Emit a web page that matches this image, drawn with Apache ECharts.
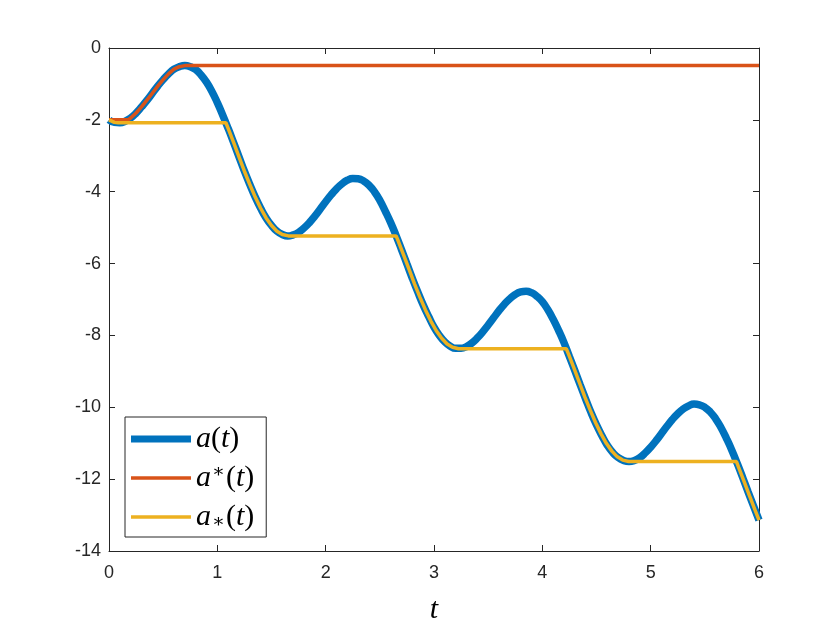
<!DOCTYPE html>
<html>
<head>
<meta charset="utf-8">
<script src="https://cdn.jsdelivr.net/npm/echarts@6/dist/echarts.min.js"></script>
<style>html,body{margin:0;padding:0;background:#fff}#c{width:840px;height:630px}</style>
</head>
<body>
<div id="c"></div>
<script>
// a(t), read at t = 0, 0.05, ..., 6
const tValues = [0,0.05,0.1,0.15,0.2,0.25,0.3,0.35,0.4,0.45,0.5,0.55,0.6,0.65,0.7,0.75,0.8,0.85,0.9,0.95,
  1.0,1.05,1.1,1.15,1.2,1.25,1.3,1.35,1.4,1.45,1.5,1.55,1.6,1.65,1.7,1.75,1.8,1.85,1.9,1.95,
  2.0,2.05,2.1,2.15,2.2,2.25,2.3,2.35,2.4,2.45,2.5,2.55,2.6,2.65,2.7,2.75,2.8,2.85,2.9,2.95,
  3.0,3.05,3.1,3.15,3.2,3.25,3.3,3.35,3.4,3.45,3.5,3.55,3.6,3.65,3.7,3.75,3.8,3.85,3.9,3.95,
  4.0,4.05,4.1,4.15,4.2,4.25,4.3,4.35,4.4,4.45,4.5,4.55,4.6,4.65,4.7,4.75,4.8,4.85,4.9,4.95,
  5.0,5.05,5.1,5.15,5.2,5.25,5.3,5.35,5.4,5.45,5.5,5.55,5.6,5.65,5.7,5.75,5.8,5.85,5.9,5.95,6.0];
const aValues = [-2.00,-2.07,-2.08,-2.04,-1.95,-1.81,-1.64,-1.46,-1.26,-1.06,-0.88,-0.72,-0.59,-0.52,-0.49,-0.52,-0.60,-0.75,-0.95,-1.21,
  -1.52,-1.87,-2.24,-2.63,-3.03,-3.43,-3.80,-4.15,-4.46,-4.73,-4.94,-5.10,-5.19,-5.23,-5.20,-5.13,-5.01,-4.86,-4.68,-4.48,
  -4.28,-4.09,-3.92,-3.78,-3.68,-3.63,-3.64,-3.70,-3.82,-4.00,-4.24,-4.54,-4.86,-5.22,-5.61,-6.01,-6.41,-6.79,-7.15,-7.47,
  -7.77,-8.00,-8.18,-8.30,-8.36,-8.36,-8.31,-8.21,-8.07,-7.90,-7.71,-7.51,-7.31,-7.13,-6.98,-6.86,-6.79,-6.77,-6.81,-6.91,
  -7.06,-7.28,-7.55,-7.86,-8.20,-8.59,-8.98,-9.38,-9.77,-10.15,-10.49,-10.79,-11.06,-11.26,-11.40,-11.48,-11.51,-11.48,-11.40,-11.27,
  -11.11,-10.93,-10.73,-10.53,-10.34,-10.18,-10.05,-9.96,-9.91,-9.93,-10.00,-10.13,-10.32,-10.57,-10.87,-11.20,-11.57,-11.96,-12.36,-12.75,-13.14];
// a*(t): running maximum
const aMaxT = [0,0.175,0.2,0.25,0.3,0.35,0.4,0.45,0.5,0.55,0.6,0.65,0.7,6];
const aMaxV = [-2.00,-2.00,-1.95,-1.81,-1.64,-1.45,-1.26,-1.06,-0.88,-0.72,-0.59,-0.52,-0.49,-0.49];
// a_*(t): running minimum
const aMinT = [0,0.05,0.085,1.079,1.1,1.15,1.2,1.25,1.3,1.35,1.4,1.45,1.5,1.55,1.6,1.656,
  2.65,2.671,2.721,2.771,2.821,2.871,2.921,2.971,3.021,3.071,3.121,3.171,3.227,
  4.221,4.242,4.292,4.342,4.392,4.442,4.492,4.542,4.592,4.642,4.692,4.742,4.797,
  5.792,5.812,5.862,5.912,5.962,6.0];
const aMinV = [-2.00,-2.07,-2.08,-2.08,-2.24,-2.63,-3.03,-3.43,-3.80,-4.15,-4.46,-4.73,-4.94,-5.10,-5.19,-5.23,
  -5.23,-5.38,-5.77,-6.17,-6.57,-6.94,-7.29,-7.60,-7.87,-8.08,-8.24,-8.33,-8.37,
  -8.37,-8.52,-8.91,-9.31,-9.71,-10.08,-10.43,-10.74,-11.01,-11.22,-11.38,-11.47,-11.51,
  -11.51,-11.67,-12.06,-12.46,-12.85,-13.14];
const xTicks = [0,1,2,3,4,5,6];
const yTicks = [0,-2,-4,-6,-8,-10,-12,-14];
const seriesNames = ['a(t)','a*(t)','a_*(t)'];

const zip = (xs, ys) => xs.map((x, i) => [x, ys[i]]);
const axisColor = '#262626';
const tickFont = {color: axisColor, fontSize: 18, fontFamily: 'Liberation Sans, Arial, sans-serif'};
const legendFmt = {
  'a(t)': '{i|a}{n|(}{i|t}{n|)}',
  'a*(t)': '{i|a}{sup|∗}{n|(}{i|t}{n|)}',
  'a_*(t)': '{i|a}{sub|∗}{n|(}{i|t}{n|)}'
};
const serif = 'Liberation Serif, DejaVu Serif, serif';

const chart = echarts.init(document.getElementById('c'), null, {renderer: 'canvas'});
const baseX = {type: 'value', min: 0, max: 6, interval: 1, splitLine: {show: false}};
const baseY = {type: 'value', min: -14, max: 0, interval: 2, splitLine: {show: false}};
const lineAxis = {show: true, onZero: false, lineStyle: {color: axisColor, width: 1}};
const tickIn = {show: true, inside: true, length: 6, lineStyle: {color: axisColor}};
chart.setOption({
  animation: false,
  backgroundColor: '#fff',
  grid: {left: 109, top: 48, width: 650, height: 507, show: false},
  xAxis: [
    Object.assign({}, baseX, {
      position: 'bottom', axisLine: lineAxis, axisTick: tickIn,
      axisLabel: Object.assign({margin: 13, formatter: v => xTicks.includes(v) ? String(v) : ''}, tickFont),
      name: 't', nameLocation: 'middle', nameGap: 44,
      nameTextStyle: {fontFamily: serif, fontStyle: 'italic', fontSize: 30, color: '#000'}
    }),
    Object.assign({}, baseX, {position: 'top', axisLine: lineAxis, axisTick: tickIn, axisLabel: {show: false}})
  ],
  yAxis: [
    Object.assign({}, baseY, {
      position: 'left', axisLine: lineAxis, axisTick: tickIn,
      axisLabel: Object.assign({margin: 8, formatter: v => yTicks.includes(v) ? String(v) : ''}, tickFont)
    }),
    Object.assign({}, baseY, {position: 'right', axisLine: lineAxis, axisTick: tickIn, axisLabel: {show: false}})
  ],
  legend: {
    orient: 'vertical',
    left: 125, top: 417,
    padding: [7, 12, 5, 6],
    itemWidth: 60, itemHeight: 7,
    itemGap: 9,
    backgroundColor: '#fff',
    borderColor: axisColor, borderWidth: 1,
    data: [
      {name: seriesNames[0], icon: 'rect', itemStyle: {color: '#0072BD'}},
      {name: seriesNames[1], icon: 'path://M0,0H60V3.6H0Z', itemStyle: {color: '#D95319'}},
      {name: seriesNames[2], icon: 'path://M0,0H60V3.6H0Z', itemStyle: {color: '#EDB120'}}
    ],
    formatter: n => legendFmt[n],
    textStyle: {
      color: '#000', fontFamily: serif, fontSize: 30, lineHeight: 30,
      rich: {
        i: {fontFamily: serif, fontStyle: 'italic', fontSize: 30, color: '#000'},
        n: {fontFamily: serif, fontSize: 30, color: '#000'},
        sup: {fontFamily: serif, fontSize: 19, color: '#000', verticalAlign: 'top', padding: [0, 1, 12, 1]},
        sub: {fontFamily: serif, fontSize: 19, color: '#000', verticalAlign: 'bottom', padding: [10, 1, 0, 1]}
      }
    }
  },
  series: [
    {name: seriesNames[0], type: 'line', smooth: true, symbol: 'none',
     lineStyle: {color: '#0072BD', width: 7.5}, itemStyle: {color: '#0072BD'}, data: zip(tValues, aValues), z: 2},
    {name: seriesNames[1], type: 'line', smooth: false, symbol: 'none',
     lineStyle: {color: '#D95319', width: 3.5}, itemStyle: {color: '#D95319'}, data: zip(aMaxT, aMaxV), z: 3},
    {name: seriesNames[2], type: 'line', smooth: false, symbol: 'none',
     lineStyle: {color: '#EDB120', width: 3.5}, itemStyle: {color: '#EDB120'}, data: zip(aMinT, aMinV), z: 4}
  ]
});
</script>
</body>
</html>
